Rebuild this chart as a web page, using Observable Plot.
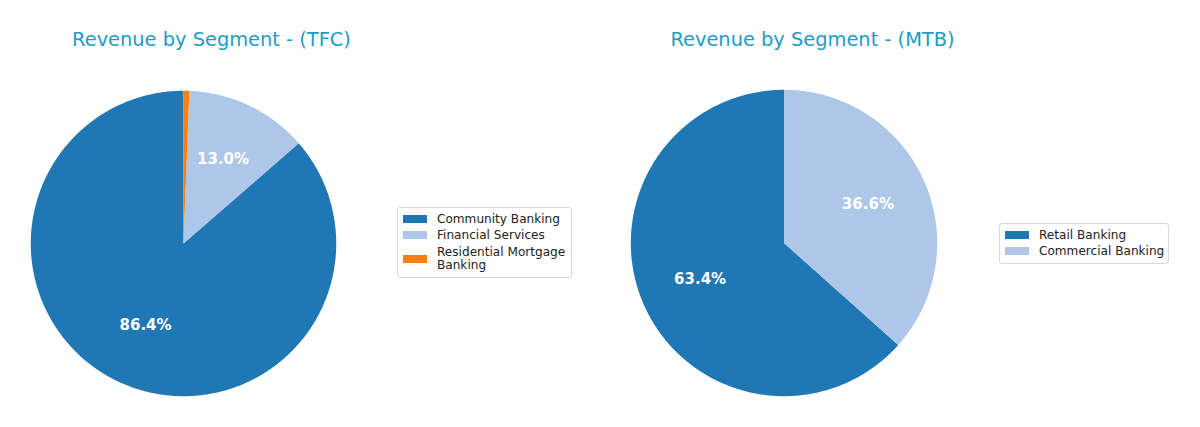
<!DOCTYPE html>
<html>
<head>
<meta charset="utf-8">
<script src="https://cdn.jsdelivr.net/npm/d3@7"></script>
<script src="https://cdn.jsdelivr.net/npm/@observablehq/plot@0.6"></script>
<style>
  body { margin: 0; background: #fff; }
  #root { position: relative; width: 1200px; height: 427px; font-family: "DejaVu Sans", sans-serif; overflow: hidden; }
  .title { position: absolute; font-size: 19.4px; color: #1b9ec6; white-space: nowrap; transform: translateX(-50%); top: 28px; }
  .pie { position: absolute; }
  .legend { position: absolute; border: 1px solid #d8d8d8; border-radius: 3px; background: #fff; font-size: 12.1px; color: #222; padding: 2px 4px 2px 5px; }
  .legend .row { display: flex; align-items: center; margin: 2.6px 0; line-height: 13.4px; }
  .legend .row.multi { margin-top: 4px; }
  .legend .sw { width: 24px; height: 8px; margin-right: 10px; flex: none; }
  .legend .tx { max-width: 130px; }
</style>
</head>
<body>
<div id="root"></div>
<script>
// ---- data ----
const tfcTitle = "Revenue by Segment - (TFC)";
const tfcSegments = ["Community Banking", "Financial Services", "Residential Mortgage Banking"];
const tfcValues = [86.4, 13.0, 0.6];
const tfcColors = ["#1f77b4", "#aec7e8", "#ff7f0e"];

const mtbTitle = "Revenue by Segment - (MTB)";
const mtbSegments = ["Retail Banking", "Commercial Banking"];
const mtbValues = [63.4, 36.6];
const mtbColors = ["#1f77b4", "#aec7e8"];

const root = document.getElementById("root");

function piePlot(segments, values, colors, radiusPx) {
  const total = d3.sum(values);
  // matplotlib: startangle 90, counterclockwise
  let start = 90;
  const pts = [];
  const labels = [];
  segments.forEach((s, i) => {
    const sweep = values[i] / total * 360;
    const a0 = start, a1 = start + sweep;
    pts.push({seg: s, x: 0, y: 0});
    const n = Math.max(2, Math.ceil(sweep / 0.5));
    for (let k = 0; k <= n; k++) {
      const a = (a0 + (a1 - a0) * k / n) * Math.PI / 180;
      pts.push({seg: s, x: Math.cos(a), y: Math.sin(a)});
    }
    pts.push({seg: s, x: 0, y: 0});
    const mid = (a0 + a1) / 2 * Math.PI / 180;
    if (values[i] / total * 100 >= 1) {
      labels.push({seg: s, x: 0.6 * Math.cos(mid), y: 0.6 * Math.sin(mid), text: (values[i] / total * 100).toFixed(1) + "%"});
    }
    start = a1;
  });
  const ext = 1.1;
  const size = Math.round(2 * radiusPx * ext);
  return Plot.plot({
    width: size, height: size,
    margin: 0,
    x: {domain: [-ext, ext], axis: null},
    y: {domain: [-ext, ext], axis: null},
    color: {domain: segments, range: colors},
    style: {background: "transparent", overflow: "visible"},
    marks: [
      Plot.line(pts, {x: "x", y: "y", z: "seg", fill: "seg", stroke: "none", curve: "linear"}),
      Plot.text(labels, {x: "x", y: "y", text: "text", fill: "white", fontWeight: "bold", fontSize: 15, fontFamily: "DejaVu Sans", dy: -1.5})
    ]
  });
}

function addPanel(title, segments, values, colors, cx, cy, r, titleX, legend) {
  const t = document.createElement("div");
  t.className = "title";
  t.textContent = title;
  t.style.left = titleX + "px";
  root.appendChild(t);

  const svg = piePlot(segments, values, colors, r);
  const size = Math.round(2 * r * 1.1);
  const wrap = document.createElement("div");
  wrap.className = "pie";
  wrap.style.left = (cx - size / 2) + "px";
  wrap.style.top = (cy - size / 2) + "px";
  wrap.appendChild(svg);
  root.appendChild(wrap);

  const lg = document.createElement("div");
  lg.className = "legend";
  lg.style.left = legend.x + "px";
  lg.style.top = legend.y + "px";
  segments.forEach((s, i) => {
    const row = document.createElement("div");
    row.className = "row";
    const sw = document.createElement("div");
    sw.className = "sw";
    sw.style.background = colors[i];
    const tx = document.createElement("div");
    tx.className = "tx";
    tx.textContent = s;
    row.appendChild(sw);
    row.appendChild(tx);
    lg.appendChild(row);
  });
  root.appendChild(lg);
  // rows whose label wraps get a little extra space, as in the reference
  lg.querySelectorAll(".row").forEach(row => {
    if (row.querySelector(".tx").getBoundingClientRect().height > 20) row.classList.add("multi");
  });
}

addPanel(tfcTitle, tfcSegments, tfcValues, tfcColors, 182.5, 242.5, 152.5, 211.5, {x: 397, y: 207});
addPanel(mtbTitle, mtbSegments, mtbValues, mtbColors, 783.5, 242.5, 153, 812.5, {x: 999, y: 223});
</script>
</body>
</html>
